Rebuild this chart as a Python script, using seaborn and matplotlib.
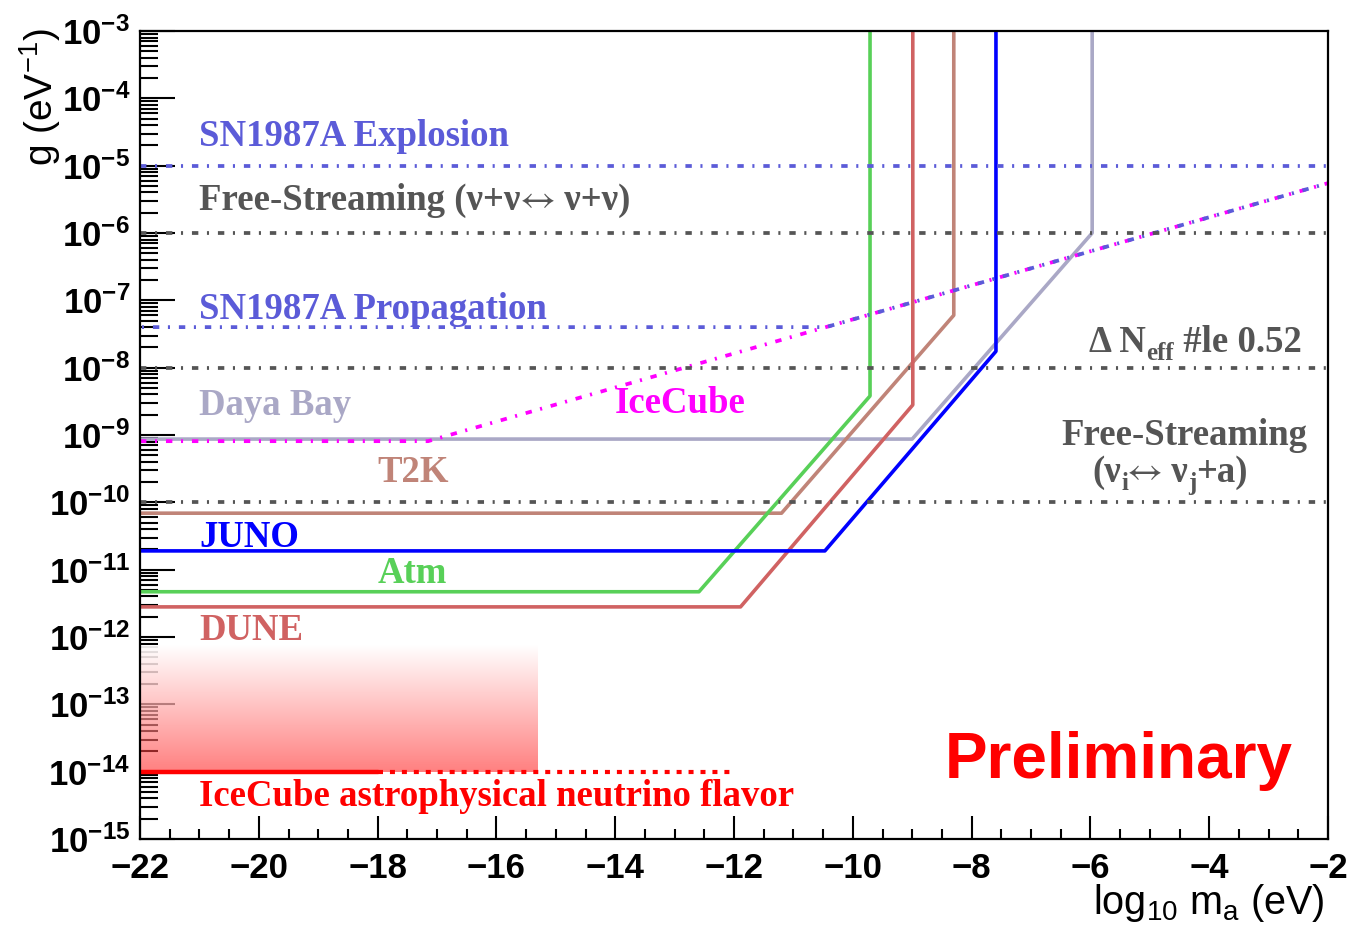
import numpy as np
import matplotlib
matplotlib.use("Agg")
import matplotlib.pyplot as plt
import matplotlib.transforms as mtransforms
import seaborn as sns
from matplotlib.ticker import MultipleLocator, LogLocator, NullFormatter

# ------------------------------------------------------------------ data
x_tick_values = [-22, -20, -18, -16, -14, -12, -10, -8, -6, -4, -2]
y_tick_exponents = [-15, -14, -13, -12, -11, -10, -9, -8, -7, -6, -5, -4, -3]

# experiment sensitivity curves (log10 m_a, g)
daya_x = [-22, -9.0, -5.97, -5.97]
daya_g = [8.7e-10, 8.7e-10, 1.0e-6, 1e-3]
t2k_x = [-22, -11.2, -8.3, -8.3]
t2k_g = [6.9e-11, 6.9e-11, 6.0e-8, 1e-3]
juno_x = [-22, -10.47, -7.59, -7.59]
juno_g = [1.9e-11, 1.9e-11, 1.75e-8, 1e-3]
atm_x = [-22, -12.59, -9.71, -9.71]
atm_g = [4.7e-12, 4.7e-12, 3.8e-9, 1e-3]
dune_x = [-22, -11.89, -8.99, -8.99]
dune_g = [2.8e-12, 2.8e-12, 2.8e-9, 1e-3]
icecube_x = [-22, -17.15, -2]
icecube_g = [8.1e-10, 8.1e-10, 5.5e-6]
sn_prop_x = [-22, -10.45, -2]
sn_prop_g = [4e-8, 4e-8, 5.5e-6]

# horizontal constraints
full_x = [-22, -2]
sn_expl_g = 1e-5
fs_nunu_g = 1e-6
dneff_g = 1e-8
fs_nua_g = 1e-10

# IceCube astrophysical flavour
astro_g = 1e-14
astro_solid_x = [-22, -18]
astro_dotted_x = [-18, -12]
astro_band_x = [-22, -15.3]
astro_band_top = 7.6e-13

# ------------------------------------------------------------------ style
sns.set_theme(style="white")
plt.rcParams.update({
    "font.family": ["Liberation Sans", "DejaVu Sans"],
    "mathtext.fontset": "custom",
    "mathtext.rm": "Liberation Sans",
    "mathtext.it": "Liberation Sans:italic",
    "mathtext.bf": "Liberation Sans:bold",
    "lines.scale_dashes": False,
    "axes.unicode_minus": True,
})

C_SN = "#5b5bd8"
C_GRAY = "#555555"
C_DAYA = "#aaa8c6"
C_ICE = "#ff00ff"
C_T2K = "#c08478"
C_JUNO = "#0000ff"
C_ATM = "#58d058"
C_DUNE = "#d06262"
C_RED = "#ff0000"

DASHDOT = (0, (4.6, 6.2, 1.5, 6.4))
DASHDOT_SHIFT = (9.4, (4.6, 6.2, 1.5, 6.4))
DOTTED = (0, (3.6, 5.0))

W, H = 1353, 940
fig = plt.figure(figsize=(W / 100, H / 100), dpi=100)
ax = fig.add_axes([140 / W, 1 - 839 / H, 1188 / W, 808 / H])
ax.set_yscale("log")
ax.set_xlim(-22, -2)
ax.set_ylim(1e-15, 1e-3)
ax.set_axisbelow(False)


def draw(xs, ys, color, lw=2.6, ls="-", z=3, cap="butt"):
    sns.lineplot(x=xs, y=ys, sort=False, estimator=None, ax=ax, legend=False,
                 color=color, linewidth=lw, linestyle=ls, zorder=z,
                 dash_capstyle=cap)


# gradient band (IceCube astrophysical)
n_bands = 127
edges = np.logspace(np.log10(astro_g), np.log10(astro_band_top), n_bands + 1)
for i in range(n_bands):
    t = (i + 0.5) / n_bands
    a = 0.5 + 0.42 * t
    G = 0.5 + 0.5 * t
    cg = min(1.0, max(0.0, (G - 1 + a) / a))
    ax.fill_between(astro_band_x, edges[i], edges[i + 1], color=(1, cg, cg),
                    alpha=a, lw=0, antialiased=False, zorder=2.6)

# experiments
draw(daya_x, daya_g, C_DAYA)
draw(t2k_x, t2k_g, C_T2K)
draw(dune_x, dune_g, C_DUNE)
draw(atm_x, atm_g, C_ATM)
draw(juno_x, juno_g, C_JUNO)

# IceCube and SN1987A propagation
draw(icecube_x, icecube_g, C_ICE, lw=2.7, ls=DASHDOT, z=3.4)
draw(sn_prop_x, sn_prop_g, C_SN, lw=2.7, ls=DASHDOT_SHIFT, z=3.5)

# horizontal reference lines
draw(full_x, [sn_expl_g] * 2, C_SN, lw=2.7, ls=DASHDOT, z=3.5)
draw(full_x, [fs_nunu_g] * 2, C_GRAY, lw=2.7, ls=DASHDOT, z=3.5)
draw(full_x, [dneff_g] * 2, C_GRAY, lw=2.7, ls=DASHDOT, z=3.5)
draw(full_x, [fs_nua_g] * 2, C_GRAY, lw=2.7, ls=DASHDOT, z=3.5)

# IceCube astrophysical line
draw(astro_solid_x, [astro_g] * 2, C_RED, lw=3.2, z=3.6)
draw(astro_dotted_x, [astro_g] * 2, C_RED, lw=3.0, ls=DOTTED, z=3.6)

# ------------------------------------------------------------------ axes
for s in ax.spines.values():
    s.set_color("black")
    s.set_linewidth(1.6)
    s.set_zorder(5)

ax.set_xticks(x_tick_values)
ax.set_xticklabels([f"\u2212{abs(v)}" for v in x_tick_values],
                   fontsize=25, fontweight="bold")
ax.xaxis.set_minor_locator(MultipleLocator(0.5))
ax.set_yticks([10.0 ** e for e in y_tick_exponents])
ax.set_yticklabels([r"$\mathbf{10^{%d}}$" % e for e in y_tick_exponents], fontsize=25)
ax.yaxis.set_minor_locator(LogLocator(base=10, subs=np.arange(2, 10), numticks=300))
ax.yaxis.set_minor_formatter(NullFormatter())

ax.tick_params(axis="both", which="both", direction="in", top=False, right=False,
               left=True, bottom=True, colors="black", width=1.5)
ax.tick_params(axis="y", which="major", length=25, pad=7)
ax.tick_params(axis="y", which="minor", length=13)
ax.tick_params(axis="x", which="major", length=16.5, pad=9)
ax.tick_params(axis="x", which="minor", length=7.5)
ax.grid(False)

fig.text(40 / W, 1 - 28 / H, r"g (eV$^{-1}$)", rotation=90, ha="center", va="top",
         fontsize=28, color="black")
fig.text(1325 / W, 1 - 914 / H, r"log$_{10}$ m$_{\mathrm{a}}$ (eV)", ha="right",
         va="baseline", fontsize=28.5, color="black")

# ------------------------------------------------------------------ annotations
SERIF = ["Liberation Serif", "DejaVu Serif"]
ARROWF = ["STIXGeneral", "DejaVu Serif"]
FS = 26.5


def label(x, y, s, color, ha="left", size=FS):
    ax.text(x, y, s, color=color, ha=ha, va="baseline", fontsize=size,
            fontweight="bold", fontfamily=SERIF, zorder=7)


renderer = fig.canvas.get_renderer()


def composite(x, y, pieces, color, ha="left"):
    """pieces: (text, fontsize, vertical offset in pixels, family, weight)"""
    widths = []
    for s, size, dy, fam, wt in pieces:
        t = ax.text(0, 0, s, fontsize=size, fontweight=wt, fontfamily=fam)
        widths.append(t.get_window_extent(renderer).width)
        t.remove()
    total = sum(widths)
    off = {"left": 0.0, "right": -total, "center": -total / 2}[ha]
    for (s, size, dy, fam, wt), w in zip(pieces, widths):
        tr = mtransforms.offset_copy(ax.transData, fig=fig, x=off, y=dy, units="dots")
        ax.text(x, y, s, transform=tr, color=color, ha="left", va="baseline",
                fontsize=size, fontweight=wt, fontfamily=fam, zorder=7)
        off += w


label(-21.0, 10 ** -4.71, "SN1987A Explosion", C_SN)
composite(-21.0, 10 ** -5.66,
          [("Free-Streaming (\u03bd+\u03bd", FS, 0, SERIF, "bold"),
           ("\u2194", FS, 0, ARROWF, "normal"),
           (" \u03bd+\u03bd)", FS, 0, SERIF, "bold")],
          C_GRAY, ha="left")
label(-21.0, 10 ** -7.28, "SN1987A Propagation", C_SN)
label(-21.0, 10 ** -8.70, "Daya Bay", C_DAYA)
label(-14.0, 10 ** -8.67, "IceCube", C_ICE)
label(-18.0, 10 ** -9.70, "T2K", C_T2K)
label(-21.0, 10 ** -10.66, "JUNO", C_JUNO)
label(-18.0, 10 ** -11.20, "Atm", C_ATM)
label(-21.0, 10 ** -12.05, "DUNE", C_DUNE)
label(-21.0, 10 ** -14.51, "IceCube astrophysical neutrino flavor", C_RED)
composite(-2.44, 10 ** -7.77,
          [("\u0394 N", FS, 0, SERIF, "bold"), ("eff", 18, -8, SERIF, "bold"),
           (" #le 0.52", FS, 0, SERIF, "bold")],
          C_GRAY, ha="right")
label(-2.34, 10 ** -9.15, "Free-Streaming", C_GRAY, ha="right")
composite(-4.66, 10 ** -9.70,
          [("(\u03bd", FS, 0, SERIF, "bold"), ("i", 18, -8, SERIF, "bold"),
           ("\u2194", FS, 0, ARROWF, "normal"), (" \u03bd", FS, 0, SERIF, "bold"),
           ("j", 18, -8, SERIF, "bold"), ("+a)", FS, 0, SERIF, "bold")],
          C_GRAY, ha="center")

ax.text(-8.45, 10 ** -14.09, "Preliminary", color=C_RED, fontsize=46, fontweight="bold",
        fontfamily=["Liberation Sans", "DejaVu Sans"], ha="left", va="baseline", zorder=7)

fig.savefig("out.png", dpi=100, facecolor="white")
